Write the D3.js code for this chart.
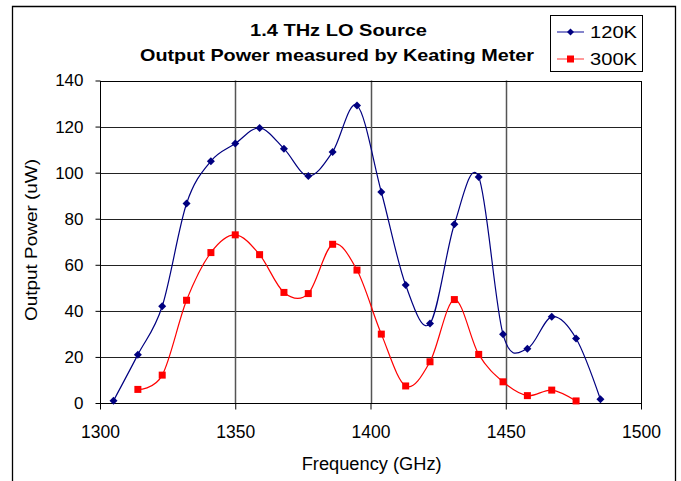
<!DOCTYPE html>
<html>
<head>
<meta charset="utf-8">
<script src="https://cdn.jsdelivr.net/npm/d3@7"></script>
<style>
  html, body { margin: 0; padding: 0; background: #fff; }
  svg { display: block; font-family: "Liberation Sans", Arial, sans-serif; }
</style>
</head>
<body>
<svg id="chart" width="681" height="481"></svg>
<script>
const freq120 = [1305, 1314, 1323, 1332, 1341, 1350, 1359, 1368, 1377, 1386, 1395, 1404, 1413, 1422, 1431, 1440, 1449, 1458, 1467, 1476, 1485];
const power120 = [1, 21, 42, 86.6, 105, 112.6, 119.4, 110.4, 98.5, 109, 129.2, 91.6, 51.2, 34.5, 77.6, 98.1, 29.8, 23.6, 37.4, 28, 1.6];
const freq300 = [1314, 1323, 1332, 1341, 1350, 1359, 1368, 1377, 1386, 1395, 1404, 1413, 1422, 1431, 1440, 1449, 1458, 1467, 1476];
const power300 = [5.9, 12.1, 44.6, 65.3, 73, 64.4, 48, 47.5, 68.9, 57.7, 29.9, 7.4, 17.9, 44.9, 21.1, 9.2, 3.2, 5.6, 0.9];
const xTicks = [1300, 1350, 1400, 1450, 1500];
const yTicks = [0, 20, 40, 60, 80, 100, 120, 140];
const seriesNames = ["120K", "300K"];
const titleLines = ["1.4 THz LO Source", "Output Power measured by Keating Meter"];
const xLabel = "Frequency (GHz)";
const yLabel = "Output Power (uW)";

const svg = d3.select("#chart");
const plot = { left: 100, right: 641, top: 80.5, bottom: 403 };

// outer frame
svg.append("path")
  .attr("d", "M12.5,490 L12.5,6.5 L675.5,6.5 L675.5,490")
  .attr("fill", "none").attr("stroke", "#000").attr("stroke-width", 1.3);

const x = d3.scaleLinear().domain([1300, 1500]).range([plot.left, plot.right]);
const y = d3.scaleLinear().domain([0, 140]).range([plot.bottom, plot.top]);

// gridlines
svg.append("g").selectAll("line").data(yTicks.filter(d => d > 0)).join("line")
  .attr("x1", plot.left).attr("x2", plot.right)
  .attr("y1", d => Math.round(y(d)) + 0.5).attr("y2", d => Math.round(y(d)) + 0.5)
  .attr("stroke", "#222").attr("stroke-width", 1);
svg.append("g").selectAll("line").data(xTicks.filter(d => d > 1300 && d < 1500)).join("line")
  .attr("x1", d => Math.round(x(d)) + 0.5).attr("x2", d => Math.round(x(d)) + 0.5)
  .attr("y1", plot.top).attr("y2", plot.bottom)
  .attr("stroke", "#555").attr("stroke-width", 1.5);

// plot border
svg.append("rect")
  .attr("x", plot.left + 0.5).attr("y", Math.round(plot.top) + 0.5)
  .attr("width", plot.right - plot.left).attr("height", plot.bottom - Math.round(plot.top))
  .attr("fill", "none").attr("stroke", "#000").attr("stroke-width", 1);

// axes
const yAxis = d3.axisLeft(y).tickValues(yTicks).tickSize(5).tickPadding(12).tickFormat(d3.format("d"));
const gy = svg.append("g").attr("transform", `translate(${plot.left + 0.5},0)`).call(yAxis);
gy.select(".domain").remove();
gy.selectAll("line").attr("stroke", "#000");
gy.selectAll("text").attr("font-size", 17).attr("fill", "#000")
  .attr("font-family", "Liberation Sans, Arial, sans-serif");

const xAxis = d3.axisBottom(x).tickValues(xTicks).tickSize(6).tickPadding(16).tickFormat(d3.format("d"));
const gx = svg.append("g").attr("transform", `translate(0,${plot.bottom + 0.5})`).call(xAxis);
gx.select(".domain").remove();
gx.selectAll("line").attr("stroke", "#000");
gx.selectAll("text").attr("font-size", 17.5).attr("fill", "#000")
  .attr("font-family", "Liberation Sans, Arial, sans-serif");

// lines
const line = d3.line().x(d => x(d[0])).y(d => y(d[1])).curve(d3.curveCardinal.tension(0));
const d120 = freq120.map((f, i) => [f, power120[i]]);
const d300 = freq300.map((f, i) => [f, power300[i]]);

svg.append("path").datum(d120).attr("d", line)
  .attr("fill", "none").attr("stroke", "#000080").attr("stroke-width", 1.2);
svg.append("path").datum(d300).attr("d", line)
  .attr("fill", "none").attr("stroke", "#ff0000").attr("stroke-width", 1.2);

const diamond = s => `M0,${-s} L${s},0 L0,${s} L${-s},0 Z`;
svg.append("g").selectAll("path").data(d120).join("path")
  .attr("transform", d => `translate(${x(d[0])},${y(d[1])})`)
  .attr("d", diamond(4)).attr("fill", "#000080");
svg.append("g").selectAll("rect").data(d300).join("rect")
  .attr("x", d => x(d[0]) - 3.5).attr("y", d => y(d[1]) - 3.5)
  .attr("width", 7).attr("height", 7).attr("fill", "#ff0000");

// title
const titleX = [338.5, 337];
const titleW = [177, 394];
svg.append("g").selectAll("text").data(titleLines).join("text")
  .attr("x", (d, i) => titleX[i] - titleW[i] / 2).attr("y", (d, i) => 36 + i * 24.5)
  .attr("textLength", (d, i) => titleW[i]).attr("lengthAdjust", "spacingAndGlyphs")
  .attr("font-weight", "bold").attr("font-size", 16.5)
  .attr("fill", "#000").text(d => d);

// axis titles
svg.append("text").attr("x", 371.7 - 70).attr("y", 469.5)
  .attr("textLength", 140).attr("lengthAdjust", "spacingAndGlyphs")
  .attr("font-size", 18).attr("fill", "#000").text(xLabel);
svg.append("text").attr("transform", `translate(37,${240 + 81}) rotate(-90)`)
  .attr("textLength", 162).attr("lengthAdjust", "spacingAndGlyphs")
  .attr("font-size", 17).attr("fill", "#000").text(yLabel);

// legend
const lg = svg.append("g");
lg.append("rect").attr("x", 550.5).attr("y", 15.5).attr("width", 92).attr("height", 56)
  .attr("fill", "#fff").attr("stroke", "#000").attr("stroke-width", 1);
const legendColors = ["#000080", "#ff0000"];
const legendLine = ["#3333aa", "#ff5555"];
seriesNames.forEach((name, i) => {
  const cy = 32 + i * 27;
  lg.append("line").attr("x1", 557).attr("x2", 584).attr("y1", cy).attr("y2", cy)
    .attr("stroke", legendLine[i]).attr("stroke-width", 1.2);
  if (i === 0) {
    lg.append("path").attr("transform", `translate(570.5,${cy})`).attr("d", diamond(3.5)).attr("fill", legendColors[i]);
  } else {
    lg.append("rect").attr("x", 567).attr("y", cy - 3.5).attr("width", 7).attr("height", 7).attr("fill", legendColors[i]);
  }
  lg.append("text").attr("x", 590).attr("y", cy + 6).attr("textLength", 47).attr("lengthAdjust", "spacingAndGlyphs")
    .attr("font-size", 17).attr("fill", "#000").text(name);
});
</script>
</body>
</html>
